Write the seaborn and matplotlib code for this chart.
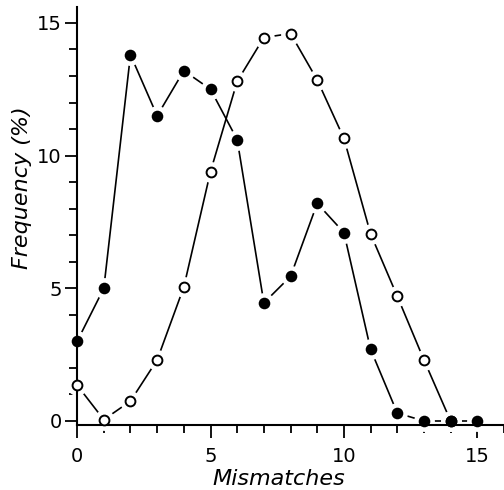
import matplotlib
matplotlib.use('Agg')
from matplotlib import pyplot as plt
from matplotlib.ticker import MultipleLocator
import pandas as pd
import seaborn as sns

# values
mism_filled = list(range(16))
freq_filled = [3.0, 5.0, 13.8, 11.5, 13.2, 12.5, 10.6, 4.45, 5.45, 8.2, 7.1, 2.7, 0.3, 0.0, 0.0, 0.0]
mism_open = list(range(15))
freq_open = [1.35, 0.05, 0.75, 2.3, 5.05, 9.4, 12.8, 14.45, 14.6, 12.85, 10.65, 7.05, 4.7, 2.3, 0.0]

df_f = pd.DataFrame({'Mismatches': mism_filled, 'Frequency': freq_filled})
df_o = pd.DataFrame({'Mismatches': mism_open, 'Frequency': freq_open})

sns.set_style('ticks')
plt.rcParams['font.family'] = ['DejaVu Sans']
plt.rcParams['text.color'] = 'black'
plt.rcParams['xtick.color'] = 'black'
plt.rcParams['ytick.color'] = 'black'
plt.rcParams['axes.labelcolor'] = 'black'

fig = plt.figure(figsize=(5.04, 4.90), dpi=100)
ax = fig.add_axes([0.153, 0.1327, 0.847, 0.853])

sns.lineplot(x='Mismatches', y='Frequency', data=df_f, color='black', lw=1.2, ax=ax, zorder=1)
sns.lineplot(x='Mismatches', y='Frequency', data=df_o, color='black', lw=1.2, ax=ax, zorder=1)

# white halos so the lines stop short of each marker
for d in (df_f, df_o):
    ax.plot(d['Mismatches'], d['Frequency'], 'o', ms=15, color='white', mew=0,
            zorder=2, clip_on=False)

sns.scatterplot(x='Mismatches', y='Frequency', data=df_o, ax=ax, s=50, color='white',
                edgecolor='black', linewidth=1.4, zorder=3, clip_on=False)
sns.scatterplot(x='Mismatches', y='Frequency', data=df_f, ax=ax, s=70, color='black',
                edgecolor='black', linewidth=0, zorder=4, clip_on=False)

ax.set_xlim(0, 16)
ax.set_ylim(-0.15, 15.6)
ax.xaxis.set_major_locator(MultipleLocator(5))
ax.xaxis.set_minor_locator(MultipleLocator(1))
ax.yaxis.set_major_locator(MultipleLocator(5))
ax.yaxis.set_minor_locator(MultipleLocator(1))
ax.tick_params(which='major', length=9, width=1.3, labelsize=14, pad=2)
ax.tick_params(which='minor', length=5.5, width=1.3)
ax.tick_params(axis='x', which='major', pad=7)

for s in ('top', 'right'):
    ax.spines[s].set_visible(False)
for s in ('left', 'bottom'):
    ax.spines[s].set_linewidth(1.5)
    ax.spines[s].set_color('black')

ax.set_xlabel('Mismatches', fontsize=16, style='italic')
ax.set_ylabel('Frequency (%)', fontsize=16, style='italic')
ax.xaxis.set_label_coords(0.473, -0.105)
ax.yaxis.set_label_coords(-0.105, 0.567)

fig.savefig('out.png', dpi=100)
